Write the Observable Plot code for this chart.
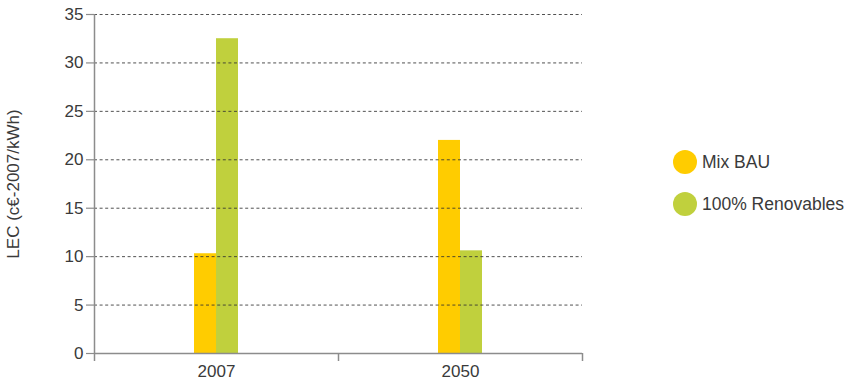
<!DOCTYPE html>
<html>
<head>
<meta charset="utf-8">
<script src="https://cdn.jsdelivr.net/npm/d3@7"></script>
<script src="https://cdn.jsdelivr.net/npm/@observablehq/plot@0.6"></script>
<style>
  html, body { margin: 0; padding: 0; background: #fff; }
  #wrap { position: relative; width: 850px; height: 384px; font-family: "Liberation Sans", Arial, sans-serif; }
  #legend { position: absolute; left: 673px; top: 150px; }
  .item { display: flex; align-items: center; height: 24px; margin-bottom: 18px; font-size: 17.5px; color: #3a3a3a; }
  .dot { width: 24px; height: 24px; border-radius: 50%; margin-right: 5px; flex: none; }
</style>
</head>
<body>
<div id="wrap"><div id="legend"></div></div>
<script>
const years = ["2007", "2050"];
const series = ["Mix BAU", "100% Renovables"];
const mixBAU = [10.3, 22.0];
const renovables = [32.5, 10.6];
const yTicks = [0, 5, 10, 15, 20, 25, 30, 35];
const colors = ["#FFCC00", "#C0D03D"];

const rowsBAU = years.map((y, i) => ({ i, year: y, series: series[0], value: mixBAU[i] }));
const rowsRen = years.map((y, i) => ({ i, year: y, series: series[1], value: renovables[i] }));

const axisColor = "#8c8c8c";
const textColor = "#3a3a3a";

const chart = Plot.plot({
  width: 850,
  height: 384,
  marginTop: 14,
  marginBottom: 31,
  marginLeft: 94,
  marginRight: 268,
  style: { fontFamily: "Liberation Sans, Arial, sans-serif", fontSize: "17px", background: "transparent" },
  x: { domain: [0, years.length], axis: null },
  y: { domain: [0, 35], axis: null },
  color: { domain: series, range: colors },
  marks: [
    Plot.rectY(rowsBAU, { x1: d => d.i, x2: d => d.i + 1, y: "value", fill: "series", insetLeft: 100, insetRight: 122 }),
    Plot.rectY(rowsRen, { x1: d => d.i, x2: d => d.i + 1, y: "value", fill: "series", insetLeft: 122, insetRight: 100 }),
    Plot.ruleY(yTicks.filter(v => v > 0), { stroke: "#333", strokeOpacity: 0.85, strokeDasharray: "3,2.6", strokeWidth: 1 }),
    Plot.ruleX([0], { y1: 0, y2: 35, stroke: axisColor, strokeWidth: 1.5 }),
    Plot.ruleY([0], { stroke: axisColor, strokeWidth: 1.5 }),
    Plot.axisY(yTicks, {
      tickSize: 8, tickPadding: 3, stroke: axisColor, strokeWidth: 1.2,
      fontSize: 17, color: textColor, fill: textColor,
      label: "LEC (c€-2007/kWh)", labelAnchor: "center", labelOffset: 88, labelArrow: "none"
    }),
    Plot.axisX([0, 1, 2], { tickSize: 8, tickFormat: () => "", stroke: axisColor, strokeWidth: 1.5, label: null }),
    Plot.axisX(years.map((y, i) => i + 0.5), {
      tickSize: 0, tickPadding: 11, tickFormat: v => years[Math.floor(v)],
      fontSize: 17, fill: textColor, label: null
    })
  ]
});
document.getElementById("wrap").prepend(chart);
chart.style.position = "absolute";
chart.style.left = "0";
chart.style.top = "0";

const legend = document.getElementById("legend");
series.forEach((s, k) => {
  const item = document.createElement("div");
  item.className = "item";
  const dot = document.createElement("span");
  dot.className = "dot";
  dot.style.background = colors[k];
  const label = document.createElement("span");
  label.textContent = s;
  item.append(dot, label);
  legend.append(item);
});
</script>
</body>
</html>
